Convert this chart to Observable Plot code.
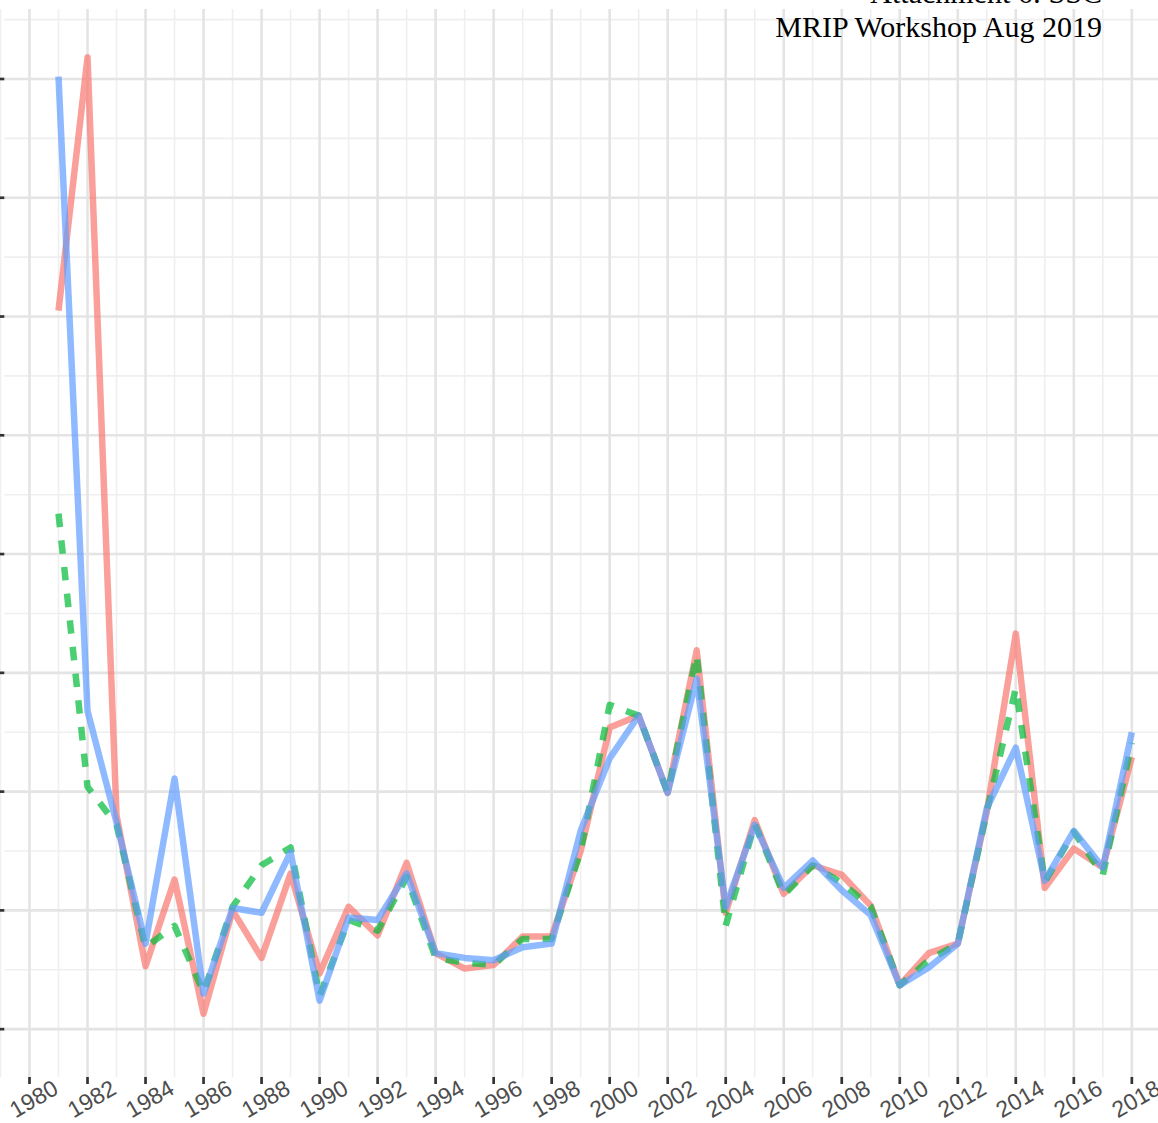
<!DOCTYPE html>
<html>
<head>
<meta charset="utf-8">
<script src="https://cdn.jsdelivr.net/npm/d3@7"></script>
<script src="https://cdn.jsdelivr.net/npm/@observablehq/plot@0.6"></script>
<style>
html, body { margin: 0; padding: 0; background: #fff; overflow: hidden; }
#wrap { position: relative; width: 1158px; height: 1123px; overflow: hidden; }
#wrap svg { overflow: hidden; display: block; }
#note { position: absolute; right: 56px; top: -24px; font-family: "Liberation Serif", "Times New Roman", serif;
        font-size: 30px; line-height: 34px; text-align: right; color: #000; white-space: nowrap; }
</style>
</head>
<body>
<div id="wrap"><div id="chart"></div><div id="note">Attachment 6: SSC<br>MRIP Workshop Aug 2019</div></div>
<script>
// ---- data ----
const years = [1981,1982,1983,1984,1985,1986,1987,1988,1989,1990,1991,1992,1993,1994,1995,1996,1997,1998,1999,2000,
               2001,2002,2003,2004,2005,2006,2007,2008,2009,2010,2011,2012,2013,2014,2015,2016,2017,2018];
const seriesRed = [6.05,8.18,1.80,0.53,1.26,0.13,1.00,0.60,1.31,0.47,1.03,0.79,1.40,0.64,0.51,0.54,0.78,0.78,1.50,2.54,
                   2.64,1.99,3.19,0.98,1.76,1.14,1.38,1.30,1.04,0.37,0.64,0.72,1.83,3.33,1.19,1.52,1.36,2.29];
const seriesGreen = [4.34,2.04,1.72,0.69,0.87,0.31,1.03,1.38,1.53,0.28,0.92,0.83,1.28,0.60,0.56,0.54,0.76,0.76,1.50,2.73,
                     2.64,1.99,3.15,0.87,1.73,1.13,1.38,1.23,1.03,0.37,0.58,0.72,1.83,2.87,1.24,1.66,1.30,2.41];
const seriesBlue = [8.02,2.68,1.74,0.72,2.11,0.30,1.02,0.98,1.49,0.24,0.94,0.92,1.31,0.64,0.60,0.58,0.69,0.72,1.67,2.28,
                    2.64,1.99,2.95,1.03,1.72,1.19,1.42,1.17,0.96,0.37,0.52,0.72,1.86,2.37,1.25,1.67,1.36,2.50];

const xMajorTicks = [1980,1982,1984,1986,1988,1990,1992,1994,1996,1998,2000,2002,2004,2006,2008,2010,2012,2014,2016,2018];
const xMinorTicks = [1979,1981,1983,1985,1987,1989,1991,1993,1995,1997,1999,2001,2003,2005,2007,2009,2011,2013,2015,2017,2019];
const yMajorTicks = [0,1,2,3,4,5,6,7,8];
const yMinorTicks = [0.5,1.5,2.5,3.5,4.5,5.5,6.5,7.5,8.5];
const xLabels = xMajorTicks.map(String);

// ---- table built from the arrays ----
const rows = years.map((yr, i) => ({year: yr, red: seriesRed[i], green: seriesGreen[i], blue: seriesBlue[i]}));
const labelRows = xMajorTicks.map((t, i) => ({tick: t, label: xLabels[i]}));

const W = 1158, H = 1123, mT = 9, mB = 46, mL = 4.34;
const panelBottom = H - mB;
const tickLen = 7;

const chart = Plot.plot({
  width: W, height: H,
  marginTop: mT, marginBottom: mB, marginLeft: mL, marginRight: 0,
  x: {domain: [1979.15, 2019.85], range: [mL, 1185], axis: null},
  y: {domain: [-0.407, 8.585], axis: null},
  style: {background: "white", overflow: "hidden"},
  marks: [
    Plot.ruleX(xMinorTicks, {x: d => d, stroke: "#efefef", strokeWidth: 1.6}),
    Plot.ruleY(yMinorTicks, {y: d => d, stroke: "#efefef", strokeWidth: 1.6}),
    Plot.ruleX(xMajorTicks, {x: d => d, stroke: "#e4e4e4", strokeWidth: 2.6}),
    Plot.ruleY(yMajorTicks, {y: d => d, stroke: "#e4e4e4", strokeWidth: 2.6}),
    // axis ticks
    Plot.ruleX(xMajorTicks, {x: d => d, insetTop: panelBottom - mT, insetBottom: -tickLen, stroke: "#333333", strokeWidth: 2.7}),
    Plot.ruleY(yMajorTicks, {y: d => d, insetLeft: -tickLen, insetRight: W - mL, stroke: "#333333", strokeWidth: 2.7}),
    // series
    Plot.line(rows, {x: "year", y: "red", stroke: "#F8766D", strokeOpacity: 0.7, strokeWidth: 6.5,
                     strokeLinecap: "butt", strokeLinejoin: "round"}),
    Plot.line(rows, {x: "year", y: "green", stroke: "#00BA38", strokeOpacity: 0.7, strokeWidth: 6.5,
                     strokeDasharray: "13.5,13.3", strokeLinecap: "butt", strokeLinejoin: "round"}),
    Plot.line(rows, {x: "year", y: "blue", stroke: "#619CFF", strokeOpacity: 0.7, strokeWidth: 6.5,
                     strokeLinecap: "butt", strokeLinejoin: "round"}),
    // x tick labels
    Plot.text(labelRows, {x: "tick", text: "label", frameAnchor: "bottom", dy: 14, lineAnchor: "top",
                          rotate: -30, textAnchor: "middle", fontSize: 23, fill: "#4d4d4d",
                          fontFamily: "Liberation Sans, Arial, sans-serif"})
  ]
});
document.getElementById("chart").appendChild(chart);
</script>
</body>
</html>
